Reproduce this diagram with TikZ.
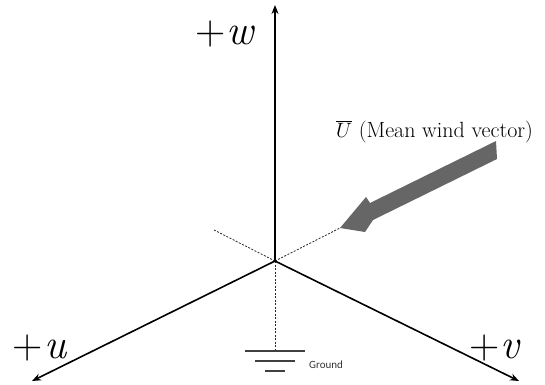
\documentclass[tikz,border=0pt]{standalone}
\usepackage{fontspec}
\newfontfamily\groundfont{Carlito}
\usetikzlibrary{arrows.meta}
\begin{document}
\begin{tikzpicture}[x=1pt,y=-1pt,
  axis/.style={line width=1.6pt,-{Stealth[length=9pt,width=7pt]}},
  dashline/.style={line width=0.8pt,dash pattern=on 2pt off 1.5pt,black!85},
  gline/.style={line width=1.5pt,black!75},
  axlabel/.style={inner sep=0pt,anchor=base,font=\fontsize{42}{46}\selectfont}]
\useasboundingbox (0,0) rectangle (545,384);
\coordinate (O) at (275,261);
\coordinate (W) at (275,5);
\coordinate (U) at (32,381);
\coordinate (V) at (519,381);
\coordinate (DL) at (214,230);
\coordinate (DR) at (340,228);
\coordinate (G) at (275,351);
% dashed guides
\draw[dashline] (O) -- (DL);
\draw[dashline] (O) -- (DR);
\draw[dashline] (O) -- (G);
% axes
\draw[axis] (O) -- (W);
\draw[axis] (O) -- (U);
\draw[axis] (O) -- (V);
% ground symbol
\draw[gline] (245,351) -- (305,351);
\draw[gline] (255,361) -- (295,361);
\draw[gline] (265,371) -- (285,371);
\node[anchor=west,inner sep=0pt,font=\groundfont\fontsize{11}{12}\selectfont,black!80] (gt) at (309,365) {Ground};
% labels
\node[axlabel] (lw) at (225,44) {+\kern1pt\textit{w}};
\node[axlabel] (lu) at (40,358) {+\kern1pt\textit{u}};
\node[axlabel] (lv) at (495,358) {+\kern1pt\textit{v}};
% mean wind arrow
\fill[black!60] (DR) -- (366,197) -- (370,203) -- (496,141) -- (497,159) -- (373,220) -- (365,232) -- cycle;
\node[anchor=base west,inner sep=0pt,font=\fontsize{22}{24}\selectfont] (lbl) at (336,137) {$\overline{U}$ (Mean wind vector)};
\end{tikzpicture}
\end{document}
